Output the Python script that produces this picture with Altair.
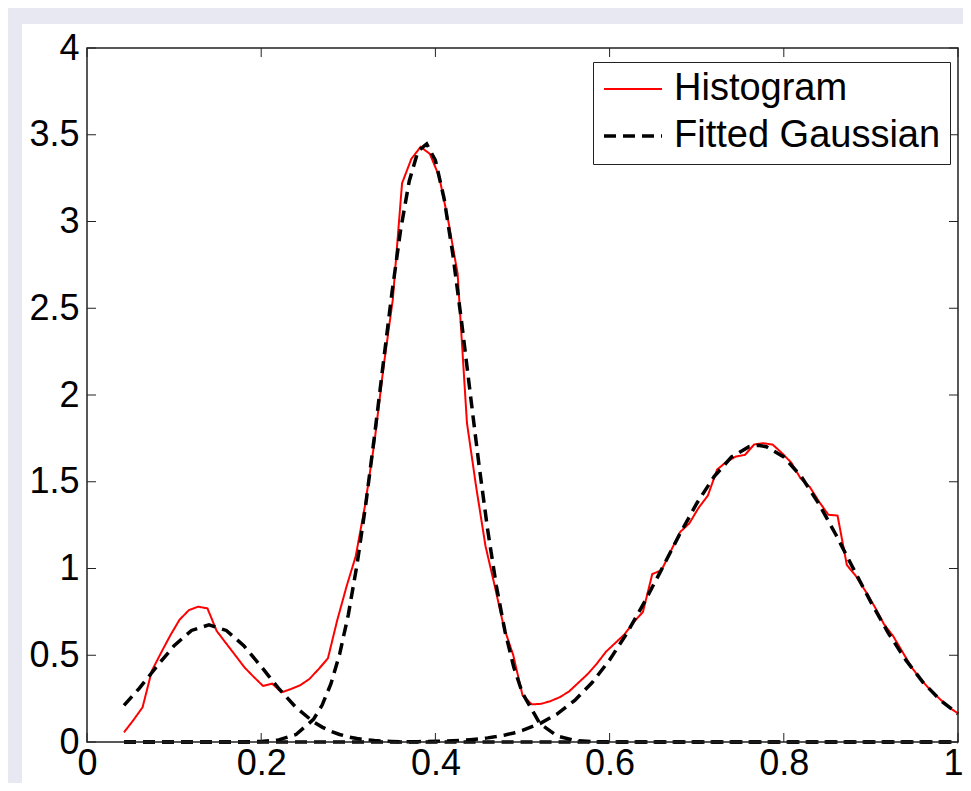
import altair as alt
import pandas as pd

# ---------------- data ----------------
hist_x = [0.0425, 0.0531, 0.0638, 0.0744, 0.0851, 0.0957, 0.1063, 0.1170, 0.1276, 0.1383,
          0.1489, 0.1595, 0.1702, 0.1808, 0.1915, 0.2021, 0.2127, 0.2234, 0.2340, 0.2447,
          0.2553, 0.2659, 0.2766, 0.2872, 0.2979, 0.3085, 0.3191, 0.3298, 0.3404, 0.3511,
          0.3617, 0.3723, 0.3830, 0.3936, 0.4043, 0.4149, 0.4255, 0.4362, 0.4468, 0.4575,
          0.4681, 0.4787, 0.4894, 0.5000, 0.5106, 0.5213, 0.5319, 0.5426, 0.5532, 0.5638,
          0.5745, 0.5851, 0.5958, 0.6064, 0.6170, 0.6277, 0.6383, 0.6490, 0.6596, 0.6702,
          0.6809, 0.6915, 0.7022, 0.7128, 0.7234, 0.7341, 0.7447, 0.7554, 0.7660, 0.7766,
          0.7873, 0.7979, 0.8086, 0.8192, 0.8298, 0.8405, 0.8511, 0.8617, 0.8724, 0.8830,
          0.8937, 0.9043, 0.9149, 0.9256, 0.9362, 0.9468, 0.9575, 0.9681, 0.9787, 0.9894,
          1.0000]
hist_y = [0.056, 0.125, 0.20, 0.41, 0.515, 0.615, 0.705, 0.76, 0.78, 0.77,
          0.64, 0.57, 0.50, 0.43, 0.375, 0.323, 0.336, 0.286, 0.305, 0.327,
          0.363, 0.42, 0.482, 0.70, 0.895, 1.07, 1.36, 1.72, 2.16, 2.55,
          3.22, 3.36, 3.43, 3.39, 3.26, 3.00, 2.70, 1.84, 1.47, 1.13,
          0.90, 0.66, 0.50, 0.27, 0.217, 0.22, 0.235, 0.258, 0.29, 0.34,
          0.39, 0.45, 0.52, 0.57, 0.62, 0.69, 0.75, 0.968, 0.99, 1.10,
          1.21, 1.26, 1.35, 1.42, 1.57, 1.615, 1.645, 1.655, 1.715, 1.722,
          1.714, 1.665, 1.61, 1.52, 1.47, 1.385, 1.31, 1.305, 1.02, 0.955,
          0.87, 0.78, 0.68, 0.61, 0.52, 0.43, 0.36, 0.30, 0.25, 0.20,
          0.165]

gauss_x = [0.0425, 0.06, 0.08, 0.10, 0.12, 0.14, 0.16, 0.18, 0.20, 0.22, 0.24, 0.26,
           0.27, 0.28, 0.29, 0.30, 0.31, 0.32, 0.33, 0.34, 0.35, 0.36, 0.37, 0.38,
           0.39, 0.40, 0.41, 0.42, 0.43, 0.44, 0.45, 0.46, 0.47, 0.48, 0.49, 0.50,
           0.52, 0.54, 0.56, 0.58, 0.60, 0.62, 0.64, 0.66, 0.68, 0.70, 0.72, 0.74,
           0.76, 0.77, 0.78, 0.80, 0.82, 0.84, 0.86, 0.88, 0.90, 0.92, 0.94, 0.96,
           0.98, 1.00]
gauss_1 = [0.2115, 0.309, 0.435, 0.555, 0.643, 0.675, 0.643, 0.555, 0.435, 0.309, 0.199, 0.116,
           0.0858, 0.0617, 0.0433, 0.0296, 0.0198, 0.0129, 0.0082, 0.0051, 0.0031, 0.0018, 0.0011, 0.0006,
           0.0003, 0, 0, 0, 0, 0, 0, 0, 0, 0, 0, 0,
           0, 0, 0, 0, 0, 0, 0, 0, 0, 0, 0, 0,
           0, 0, 0, 0, 0, 0, 0, 0, 0, 0, 0, 0,
           0, 0]
gauss_2 = [0, 0, 0, 0, 0, 0, 0, 0, 0.003, 0.0122, 0.0432, 0.130,
           0.213, 0.335, 0.505, 0.733, 1.022, 1.368, 1.761, 2.176, 2.585, 2.949, 3.234, 3.406,
           3.447, 3.352, 3.132, 2.811, 2.424, 2.009, 1.599, 1.223, 0.899, 0.635, 0.431, 0.281,
           0.106, 0.034, 0.0093, 0.0022, 0, 0, 0, 0, 0, 0, 0, 0,
           0, 0, 0, 0, 0, 0, 0, 0, 0, 0, 0, 0,
           0, 0]
gauss_3 = [0, 0, 0, 0, 0, 0, 0, 0, 0, 0, 0, 0,
           0, 0, 0, 0, 0, 0, 0, 0, 0, 0, 0, 0.002,
           0.0028, 0.0039, 0.0053, 0.0073, 0.010, 0.0134, 0.0179, 0.0238, 0.0312, 0.0405, 0.0522, 0.0667,
           0.106, 0.162, 0.240, 0.343, 0.473, 0.628, 0.806, 0.998, 1.193, 1.375, 1.530, 1.643,
           1.702, 1.71, 1.702, 1.643, 1.530, 1.375, 1.193, 0.998, 0.806, 0.628, 0.473, 0.343,
           0.240, 0.162]

x_ticks = [0, 0.2, 0.4, 0.6, 0.8, 1.0]
y_ticks = [0, 0.5, 1, 1.5, 2, 2.5, 3, 3.5, 4]
series_names = ["Histogram", "Fitted Gaussian"]

# ---------------- tables ----------------
hist_df = pd.DataFrame({"x": hist_x, "y": hist_y, "series": series_names[0], "comp": "h"})
gauss_df = pd.concat([
    pd.DataFrame({"x": gauss_x, "y": g, "series": series_names[1], "comp": name})
    for name, g in (("g1", gauss_1), ("g2", gauss_2), ("g3", gauss_3))
], ignore_index=True)
xt_df = pd.DataFrame({"x": x_ticks})
yt_df = pd.DataFrame({"y": y_ticks})
one = pd.DataFrame({"a": [0]})

W, H = 871, 694
FONT = "Liberation Sans"

xscale = alt.Scale(domain=[0, 1], nice=False, zero=False)
yscale = alt.Scale(domain=[0, 4], nice=False, zero=False)

x_axis = alt.Axis(values=x_ticks, format="~g", ticks=False, domain=False, grid=False,
                  labelFontSize=36, labelFont=FONT, labelColor="black", zindex=2,
                  labelPadding=4, labelFlush=False, labelOverlap=False,
                  labelAlign=alt.condition("datum.value >= 1", alt.value("right"), alt.value("center")),
                  labelOffset=alt.condition("datum.value >= 1", alt.value(5), alt.value(0)))
y_axis = alt.Axis(values=y_ticks, format="~g", ticks=False, domain=False, grid=False,
                  labelFontSize=36, labelFont=FONT, labelColor="black", zindex=2,
                  labelPadding=8, labelFlush=False, labelOverlap=False)


def xq():
    return alt.X("x:Q", scale=xscale, title=None, axis=x_axis)


def yq():
    return alt.Y("y:Q", scale=yscale, title=None, axis=y_axis)


legend = alt.Legend(
    orient="none", legendX=506, legendY=14, padding=9,
    strokeColor="#222222", fillColor="white",
    symbolType="stroke", symbolSize=3364, clipHeight=36, rowPadding=9,
    labelFontSize=38, labelFont=FONT, labelColor="black", labelOffset=10, labelLimit=600,
)
color = alt.Color("series:N", title=None, legend=legend,
                  scale=alt.Scale(domain=series_names, range=["#ff0000", "#000000"]))
dash = alt.StrokeDash("series:N", title=None, legend=legend,
                      scale=alt.Scale(domain=series_names, range=[[1, 0], [12, 7]]))
swidth = alt.StrokeWidth("series:N", title=None, legend=legend,
                         scale=alt.Scale(domain=series_names, range=[2, 3.5]))

panel = alt.Chart(one).mark_rect(fill="white").encode(
    x=alt.value(-65), x2=alt.value(W + 40), y=alt.value(-24), y2=alt.value(H + 60))

hist_line = alt.Chart(hist_df).mark_line().encode(
    x=xq(), y=yq(), color=color, strokeDash=dash, strokeWidth=swidth, detail="comp:N")

gauss_line = alt.Chart(gauss_df).mark_line().encode(
    x=xq(), y=yq(), color=color, strokeDash=dash, strokeWidth=swidth, detail="comp:N")

tick_col = "#222222"
bottom_ticks = alt.Chart(xt_df).mark_rule(color=tick_col, strokeWidth=1).encode(
    x=xq(), y=alt.value(H), y2=alt.value(H - 9))
top_ticks = alt.Chart(xt_df).mark_rule(color=tick_col, strokeWidth=1).encode(
    x=xq(), y=alt.value(0), y2=alt.value(9))
left_ticks = alt.Chart(yt_df).mark_rule(color=tick_col, strokeWidth=1).encode(
    y=yq(), x=alt.value(0), x2=alt.value(9))
right_ticks = alt.Chart(yt_df).mark_rule(color=tick_col, strokeWidth=1).encode(
    y=yq(), x=alt.value(W), x2=alt.value(W - 9))

box = alt.Chart(one).mark_rect(fillOpacity=0, stroke="#222222", strokeWidth=1.5).encode(
    x=alt.value(0), x2=alt.value(W), y=alt.value(0), y2=alt.value(H))

chart = alt.layer(
    panel, hist_line, gauss_line, bottom_ticks, top_ticks, left_ticks, right_ticks, box
).properties(
    width=W, height=H,
    background="#e8e8f3",
    padding={"left": 79, "top": 40, "right": 5, "bottom": 41},
    autosize=alt.AutoSizeParams(type="none"),
).configure_view(strokeWidth=0)

chart.save("out.html", embed_options={"renderer": "svg", "actions": False})
